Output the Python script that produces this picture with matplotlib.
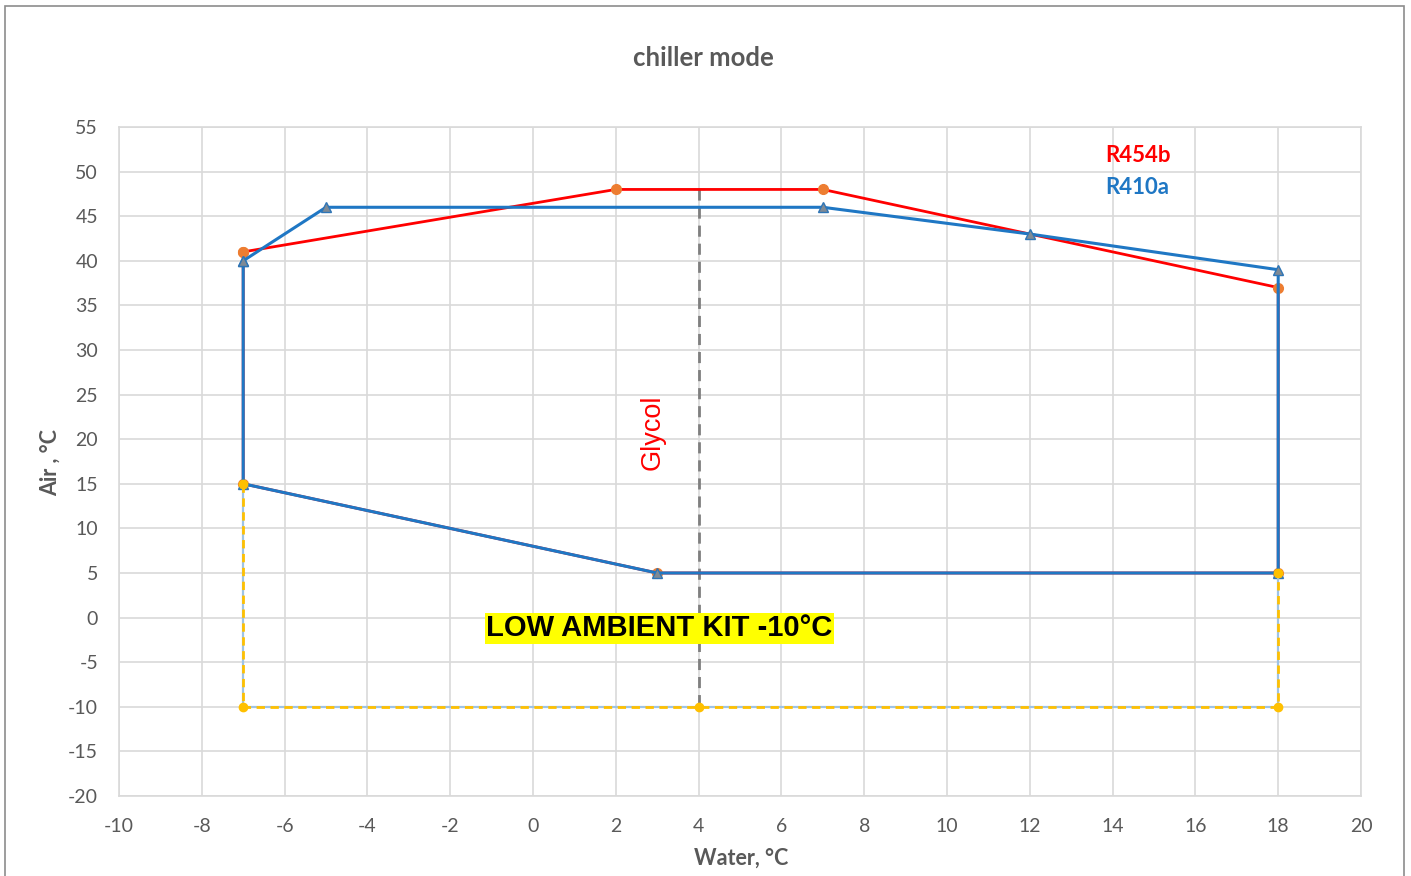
import matplotlib
matplotlib.use("Agg")
import matplotlib.pyplot as plt
from matplotlib.patches import Rectangle

plt.rcParams["axes.unicode_minus"] = False

# ---- data ----
r454b_x = [-7, 2, 7, 18, 18, 3, -7, -7]
r454b_y = [41, 48, 48, 37, 5, 5, 15, 41]
r410a_x = [-7, -5, 7, 12, 18, 18, 3, -7, -7]
r410a_y = [40, 46, 46, 43, 39, 5, 5, 15, 40]
low_x = [-7, -7, 4, 18, 18]
low_y = [15, -10, -10, -10, 5]
glycol_x = [4, 4]
glycol_y = [48, -10]
x_ticks = list(range(-10, 21, 2))
y_ticks = list(range(-20, 56, 5))

W, H = 1411, 876
fig = plt.figure(figsize=(W / 100, H / 100), dpi=100)
fig.patch.set_facecolor("white")
# outer chart border
fig.add_artist(Rectangle((5 / W, -0.01), (1404 - 5) / W, 1 - 6 / H + 0.01,
                         transform=fig.transFigure, fill=False,
                         edgecolor="#8c8c8c", linewidth=1.2))

ax = fig.add_axes([119 / W, 1 - 796 / H, (1361 - 119) / W, (796 - 127) / H])
ax.set_xlim(-10, 20)
ax.set_ylim(-20, 55)
ax.set_xticks(x_ticks)
ax.set_yticks(y_ticks)
ax.grid(True, color="#d9d9d9", linewidth=1.2)
ax.set_axisbelow(True)
for s in ax.spines.values():
    s.set_color("#d9d9d9")
    s.set_linewidth(1.2)
ax.tick_params(length=0, labelsize=14, labelcolor="#595959")
ax.tick_params(axis="x", pad=16)
ax.tick_params(axis="y", pad=15)
for lab in ax.get_xticklabels() + ax.get_yticklabels():
    lab.set_family("Lato")

# glycol dashed line
ax.plot(glycol_x, glycol_y, color="#7f7f7f", linewidth=2, linestyle=(0, (4, 2.5)),
        marker="_", markersize=8, markevery=[0], zorder=3)

# R454b
ax.plot(r454b_x, r454b_y, color="#ff0000", linewidth=2, marker="o", markersize=7,
        markerfacecolor="#ed7d31", markeredgecolor="#ed7d31", zorder=4)
# R410a
ax.plot(r410a_x, r410a_y, color="#1f77c4", linewidth=2.2, marker="^", markersize=7,
        markerfacecolor="#7f8a95", markeredgecolor="#2e75b6", zorder=5)
# low ambient kit
ax.plot(low_x, low_y, color="#9dc3e6", linewidth=1.6, zorder=6)
ax.plot(low_x, low_y, color="#ffc000", linewidth=2, linestyle=(0, (3, 2)),
        marker="o", markersize=6, markerfacecolor="#ffc000",
        markeredgecolor="#ffc000", zorder=6)

ax.text(2.9, 20.8, "Glycol", rotation=90, color="#ff0000", fontsize=19.5,
        family="Liberation Sans", ha="center", va="center", zorder=7)
ax.text(3.05, -1.2, "LOW AMBIENT KIT -10°C", color="black", fontsize=21,
        fontweight="bold", family="Liberation Sans", ha="center", va="center",
        bbox=dict(facecolor="#ffff00", edgecolor="none", pad=1), zorder=7)

ax.text(1105 / W, 1 - 156 / H, "R454b", transform=fig.transFigure, color="#ff0000",
        fontsize=16, fontweight="bold", family="Lato", ha="left", va="center")
ax.text(1105 / W, 1 - 187 / H, "R410a", transform=fig.transFigure, color="#1f77c4",
        fontsize=16, fontweight="bold", family="Lato", ha="left", va="center")

fig.text(703 / W, 1 - 58 / H, "chiller mode", color="#595959", fontsize=18.5,
         fontweight="bold", family="Lato", ha="center", va="center")
fig.text(741 / W, 1 - 858 / H, "Water, °C", color="#595959", fontsize=15.5,
         fontweight="bold", family="Lato", ha="center", va="center")
fig.text(50 / W, 1 - 462 / H, "Air , °C", color="#595959", fontsize=15.5,
         fontweight="bold", family="Lato", ha="center", va="center", rotation=90)

fig.savefig("out.png", dpi=100)
